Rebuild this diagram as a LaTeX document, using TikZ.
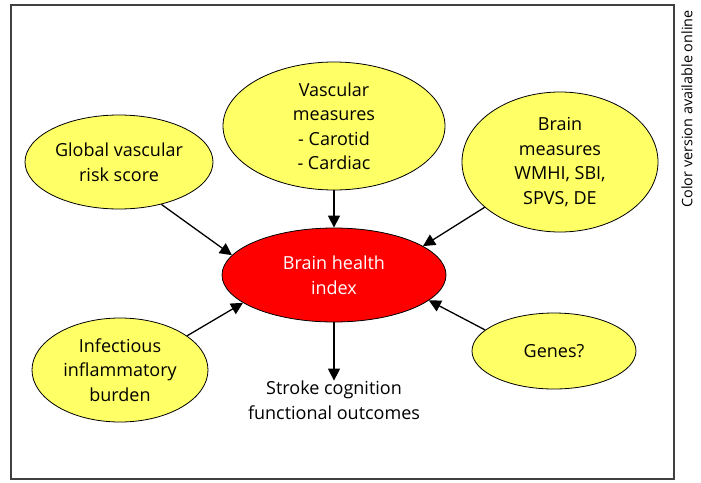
\documentclass[tikz,border=0pt]{standalone}
\usepackage{fontspec}
\setmainfont{Open Sans}
\usetikzlibrary{shapes.geometric,arrows.meta}
\definecolor{pale}{RGB}{255,255,102}
\begin{document}
\begin{tikzpicture}[x=1pt,y=-1pt,
	bubble/.style={ellipse,draw=black,line width=0.8pt,fill=pale,inner xsep=0pt,inner ysep=-4pt,align=center,font=\fontsize{18}{24.5}\selectfont},
	hub/.style={bubble,fill=red,text=white},
	arr/.style={line width=1.3pt,-{Triangle[length=12pt,width=12pt]}}]
	\useasboundingbox (0,0) rectangle (701,482);
	\draw [line width=1.6pt,black!75] (11,5) rectangle (674,479);
	\node [rotate=90,font=\fontsize{14.4}{16}\selectfont] (note) at (687,109) {Color version available online};

	\node [hub,minimum width=224,minimum height=94] (index) at (334,275) {Brain health\\index};
	\node [bubble,minimum width=188,minimum height=94] (global) at (119,162) {Global vascular\\risk score};
	\node [bubble,minimum width=222,minimum height=128] (vasc) at (334,126) {Vascular\\measures\\- Carotid\\- Cardiac};
	\node [bubble,minimum width=196,minimum height=140] (brain) at (560,162) {Brain\\measures\\WMHI, SBI,\\SPVS, DE};
	\node [bubble,minimum width=176,minimum height=104] (infl) at (120,370) {Infectious\\inflammatory\\burden};
	\node [bubble,minimum width=164,minimum height=76] (genes) at (554,351) {Genes?};
	\node [align=center,inner sep=0pt,font=\fontsize{18}{24.5}\selectfont] (out) at (334,400) {Stroke cognition\\functional outcomes};

	\draw [arr] (global.-45) -- (index.169);
	\draw [arr] (vasc.south) -- (index.north);
	\draw [arr] (brain.211) -- (index.18);
	\draw [arr] (genes.163) -- (index.-15);
	\draw [arr] (infl.27) -- (index.197);
	\draw [arr] (index.south) -- (out.north);
\end{tikzpicture}
\end{document}
